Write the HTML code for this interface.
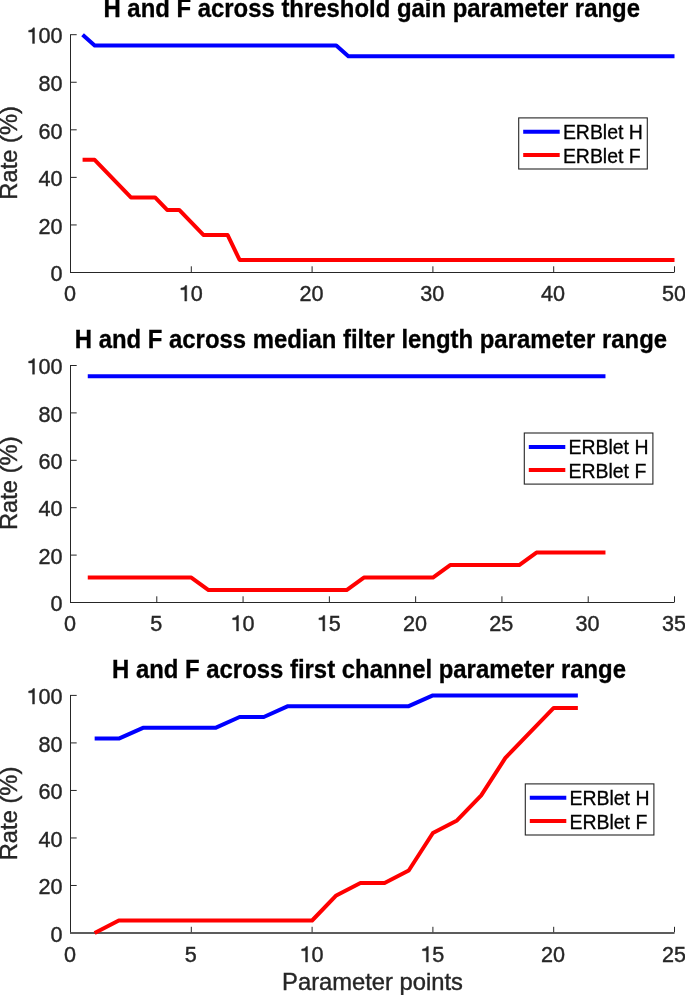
<!DOCTYPE html>
<html><head><meta charset="utf-8"><style>
html,body{margin:0;padding:0;background:#fff;}
body{width:685px;height:995px;overflow:hidden;}
svg{display:block;will-change:transform;}
text{font-family:"Liberation Sans",sans-serif;}
.t{font-size:21.6px;fill:#262626;stroke:#262626;stroke-width:0.4px;}
.l{font-size:23.76px;fill:#262626;stroke:#262626;stroke-width:0.4px;}
.ti{font-size:23.9px;font-weight:bold;fill:#000;stroke:#000;stroke-width:0.3px;}
path.one{fill:#262626;stroke:#262626;stroke-width:0.4px;vector-effect:non-scaling-stroke;}
.lg{font-size:19.44px;fill:#000;stroke:#000;stroke-width:0.3px;}
</style></head><body>
<svg width="685" height="995" viewBox="0 0 685 995">
<rect width="685" height="995" fill="#fff"/>
<path d="M70.0 272.50H674.5" fill="none" stroke="#262626" stroke-width="1.0"/>
<path d="M70.5 34.20V272.00 M71.0 224.94h5.7 M71.0 177.38h5.7 M71.0 129.82h5.7 M71.0 82.26h5.7 M71.0 34.70h5.7 M191.30 272.00v-5.70 M312.10 272.00v-5.70 M432.90 272.00v-5.70 M553.70 272.00v-5.70 M674.50 272.00v-5.70" fill="none" stroke="#262626" stroke-width="1"/>
<text transform="translate(50.49 281.20) scale(1 1.03)" class="t">0</text>
<text transform="translate(38.47 233.64) scale(1 1.03)" class="t">2</text>
<text transform="translate(50.49 233.64) scale(1 1.03)" class="t">0</text>
<text transform="translate(38.47 186.08) scale(1 1.03)" class="t">4</text>
<text transform="translate(50.49 186.08) scale(1 1.03)" class="t">0</text>
<text transform="translate(38.47 138.52) scale(1 1.03)" class="t">6</text>
<text transform="translate(50.49 138.52) scale(1 1.03)" class="t">0</text>
<text transform="translate(38.47 90.96) scale(1 1.03)" class="t">8</text>
<text transform="translate(50.49 90.96) scale(1 1.03)" class="t">0</text>
<path transform="translate(26.46 43.40) scale(0.02160 -0.02225)" d="M281 0L373 0L373 700L303 700C288 642 238 598 100 585L100 508L281 508Z" class="one"/>
<text transform="translate(38.47 43.40) scale(1 1.03)" class="t">0</text>
<text transform="translate(50.49 43.40) scale(1 1.03)" class="t">0</text>
<text transform="translate(63.89 301.10) scale(1 1.03)" class="t">0</text>
<path transform="translate(178.69 301.10) scale(0.02160 -0.02225)" d="M281 0L373 0L373 700L303 700C288 642 238 598 100 585L100 508L281 508Z" class="one"/>
<text transform="translate(190.70 301.10) scale(1 1.03)" class="t">0</text>
<text transform="translate(299.49 301.10) scale(1 1.03)" class="t">2</text>
<text transform="translate(311.50 301.10) scale(1 1.03)" class="t">0</text>
<text transform="translate(420.29 301.10) scale(1 1.03)" class="t">3</text>
<text transform="translate(432.30 301.10) scale(1 1.03)" class="t">0</text>
<text transform="translate(541.09 301.10) scale(1 1.03)" class="t">4</text>
<text transform="translate(553.10 301.10) scale(1 1.03)" class="t">0</text>
<text transform="translate(661.89 301.10) scale(1 1.03)" class="t">5</text>
<text transform="translate(673.90 301.10) scale(1 1.03)" class="t">0</text>
<text transform="translate(17.00 152.85) rotate(-90) scale(1 1.04)" text-anchor="middle" class="l">Rate (%)</text>
<text transform="translate(371.70 17.00) scale(1 1.05)" text-anchor="middle" class="ti">H and F across threshold gain parameter range</text>
<path d="M82.58 34.70 L94.66 45.51 L336.26 45.51 L348.34 56.32 L674.50 56.32" fill="none" stroke="#0000ff" stroke-width="4" stroke-linejoin="round"/>
<path d="M82.58 159.86 L94.66 159.86 L130.90 197.41 L155.06 197.41 L167.14 209.92 L179.22 209.92 L203.38 234.95 L227.54 234.95 L239.62 259.98 L674.50 259.98" fill="none" stroke="#ff0000" stroke-width="4" stroke-linejoin="round"/>
<rect x="518.7" y="117.9" width="128.6" height="51.1" fill="#fff" stroke="#262626" stroke-width="1.1"/>
<path d="M523.20 131.80h36.5" stroke="#0000ff" stroke-width="4"/>
<path d="M523.20 155.00h36.5" stroke="#ff0000" stroke-width="4"/>
<text x="562.90" y="138.90" class="lg">ERBlet H</text>
<text x="562.90" y="162.60" class="lg">ERBlet F</text>
<path d="M70.0 602.50H674.5" fill="none" stroke="#262626" stroke-width="1.0"/>
<path d="M70.5 365.00V602.00 M71.0 555.10h5.7 M71.0 507.70h5.7 M71.0 460.30h5.7 M71.0 412.90h5.7 M71.0 365.50h5.7 M156.79 602.00v-5.70 M243.07 602.00v-5.70 M329.36 602.00v-5.70 M415.64 602.00v-5.70 M501.93 602.00v-5.70 M588.21 602.00v-5.70 M674.50 602.00v-5.70" fill="none" stroke="#262626" stroke-width="1"/>
<text transform="translate(50.49 611.20) scale(1 1.03)" class="t">0</text>
<text transform="translate(38.47 563.80) scale(1 1.03)" class="t">2</text>
<text transform="translate(50.49 563.80) scale(1 1.03)" class="t">0</text>
<text transform="translate(38.47 516.40) scale(1 1.03)" class="t">4</text>
<text transform="translate(50.49 516.40) scale(1 1.03)" class="t">0</text>
<text transform="translate(38.47 469.00) scale(1 1.03)" class="t">6</text>
<text transform="translate(50.49 469.00) scale(1 1.03)" class="t">0</text>
<text transform="translate(38.47 421.60) scale(1 1.03)" class="t">8</text>
<text transform="translate(50.49 421.60) scale(1 1.03)" class="t">0</text>
<path transform="translate(26.46 374.20) scale(0.02160 -0.02225)" d="M281 0L373 0L373 700L303 700C288 642 238 598 100 585L100 508L281 508Z" class="one"/>
<text transform="translate(38.47 374.20) scale(1 1.03)" class="t">0</text>
<text transform="translate(50.49 374.20) scale(1 1.03)" class="t">0</text>
<text transform="translate(63.89 631.00) scale(1 1.03)" class="t">0</text>
<text transform="translate(150.18 631.00) scale(1 1.03)" class="t">5</text>
<path transform="translate(230.46 631.00) scale(0.02160 -0.02225)" d="M281 0L373 0L373 700L303 700C288 642 238 598 100 585L100 508L281 508Z" class="one"/>
<text transform="translate(242.47 631.00) scale(1 1.03)" class="t">0</text>
<path transform="translate(316.74 631.00) scale(0.02160 -0.02225)" d="M281 0L373 0L373 700L303 700C288 642 238 598 100 585L100 508L281 508Z" class="one"/>
<text transform="translate(328.76 631.00) scale(1 1.03)" class="t">5</text>
<text transform="translate(403.03 631.00) scale(1 1.03)" class="t">2</text>
<text transform="translate(415.04 631.00) scale(1 1.03)" class="t">0</text>
<text transform="translate(489.32 631.00) scale(1 1.03)" class="t">2</text>
<text transform="translate(501.33 631.00) scale(1 1.03)" class="t">5</text>
<text transform="translate(575.60 631.00) scale(1 1.03)" class="t">3</text>
<text transform="translate(587.61 631.00) scale(1 1.03)" class="t">0</text>
<text transform="translate(661.89 631.00) scale(1 1.03)" class="t">3</text>
<text transform="translate(673.90 631.00) scale(1 1.03)" class="t">5</text>
<text transform="translate(17.00 483.25) rotate(-90) scale(1 1.04)" text-anchor="middle" class="l">Rate (%)</text>
<text transform="translate(370.90 347.50) scale(1 1.05)" text-anchor="middle" class="ti">H and F across median filter length parameter range</text>
<path d="M87.76 376.27 L605.47 376.27" fill="none" stroke="#0000ff" stroke-width="4" stroke-linejoin="round"/>
<path d="M87.76 577.55 L191.30 577.55 L208.56 590.03 L346.61 590.03 L363.87 577.55 L432.90 577.55 L450.16 565.08 L519.19 565.08 L536.44 552.61 L605.47 552.61" fill="none" stroke="#ff0000" stroke-width="4" stroke-linejoin="round"/>
<rect x="524.3" y="433.0" width="128.6" height="51.1" fill="#fff" stroke="#262626" stroke-width="1.1"/>
<path d="M528.80 446.90h36.5" stroke="#0000ff" stroke-width="4"/>
<path d="M528.80 470.10h36.5" stroke="#ff0000" stroke-width="4"/>
<text x="568.50" y="454.00" class="lg">ERBlet H</text>
<text x="568.50" y="477.70" class="lg">ERBlet F</text>
<path d="M70.0 933.00H674.5" fill="none" stroke="#262626" stroke-width="1.4"/>
<path d="M70.5 694.90V932.30 M71.0 885.48h5.7 M71.0 837.96h5.7 M71.0 790.44h5.7 M71.0 742.92h5.7 M71.0 695.40h5.7 M191.30 932.30v-5.50 M312.10 932.30v-5.50 M432.90 932.30v-5.50 M553.70 932.30v-5.50 M674.50 932.30v-5.50" fill="none" stroke="#262626" stroke-width="1"/>
<text transform="translate(50.49 941.70) scale(1 1.03)" class="t">0</text>
<text transform="translate(38.47 894.18) scale(1 1.03)" class="t">2</text>
<text transform="translate(50.49 894.18) scale(1 1.03)" class="t">0</text>
<text transform="translate(38.47 846.66) scale(1 1.03)" class="t">4</text>
<text transform="translate(50.49 846.66) scale(1 1.03)" class="t">0</text>
<text transform="translate(38.47 799.14) scale(1 1.03)" class="t">6</text>
<text transform="translate(50.49 799.14) scale(1 1.03)" class="t">0</text>
<text transform="translate(38.47 751.62) scale(1 1.03)" class="t">8</text>
<text transform="translate(50.49 751.62) scale(1 1.03)" class="t">0</text>
<path transform="translate(26.46 704.10) scale(0.02160 -0.02225)" d="M281 0L373 0L373 700L303 700C288 642 238 598 100 585L100 508L281 508Z" class="one"/>
<text transform="translate(38.47 704.10) scale(1 1.03)" class="t">0</text>
<text transform="translate(50.49 704.10) scale(1 1.03)" class="t">0</text>
<text transform="translate(63.89 962.05) scale(1 1.03)" class="t">0</text>
<text transform="translate(184.69 962.05) scale(1 1.03)" class="t">5</text>
<path transform="translate(299.49 962.05) scale(0.02160 -0.02225)" d="M281 0L373 0L373 700L303 700C288 642 238 598 100 585L100 508L281 508Z" class="one"/>
<text transform="translate(311.50 962.05) scale(1 1.03)" class="t">0</text>
<path transform="translate(420.29 962.05) scale(0.02160 -0.02225)" d="M281 0L373 0L373 700L303 700C288 642 238 598 100 585L100 508L281 508Z" class="one"/>
<text transform="translate(432.30 962.05) scale(1 1.03)" class="t">5</text>
<text transform="translate(541.09 962.05) scale(1 1.03)" class="t">2</text>
<text transform="translate(553.10 962.05) scale(1 1.03)" class="t">0</text>
<text transform="translate(661.89 962.05) scale(1 1.03)" class="t">2</text>
<text transform="translate(673.90 962.05) scale(1 1.03)" class="t">5</text>
<text transform="translate(17.00 813.45) rotate(-90) scale(1 1.04)" text-anchor="middle" class="l">Rate (%)</text>
<text transform="translate(369.00 677.50) scale(1 1.05)" text-anchor="middle" class="ti">H and F across first channel parameter range</text>
<path d="M94.66 738.60 L118.82 738.60 L142.98 727.80 L215.46 727.80 L239.62 717.00 L263.78 717.00 L287.94 706.20 L408.74 706.20 L432.90 695.40 L577.86 695.40" fill="none" stroke="#0000ff" stroke-width="4" stroke-linejoin="round"/>
<path d="M94.66 933.00 L118.82 920.49 L312.10 920.49 L336.26 895.48 L360.42 882.98 L384.58 882.98 L408.74 870.47 L432.90 832.96 L457.06 820.45 L481.22 795.44 L505.38 757.93 L553.70 707.91 L577.86 707.91" fill="none" stroke="#ff0000" stroke-width="4" stroke-linejoin="round"/>
<rect x="525.3" y="783.9" width="128.6" height="51.1" fill="#fff" stroke="#262626" stroke-width="1.1"/>
<path d="M529.80 797.80h36.5" stroke="#0000ff" stroke-width="4"/>
<path d="M529.80 821.00h36.5" stroke="#ff0000" stroke-width="4"/>
<text x="569.50" y="804.90" class="lg">ERBlet H</text>
<text x="569.50" y="828.60" class="lg">ERBlet F</text>
<text transform="translate(372.50 989.60) scale(1 1.04)" text-anchor="middle" class="l">Parameter points</text>
</svg>
</body></html>
